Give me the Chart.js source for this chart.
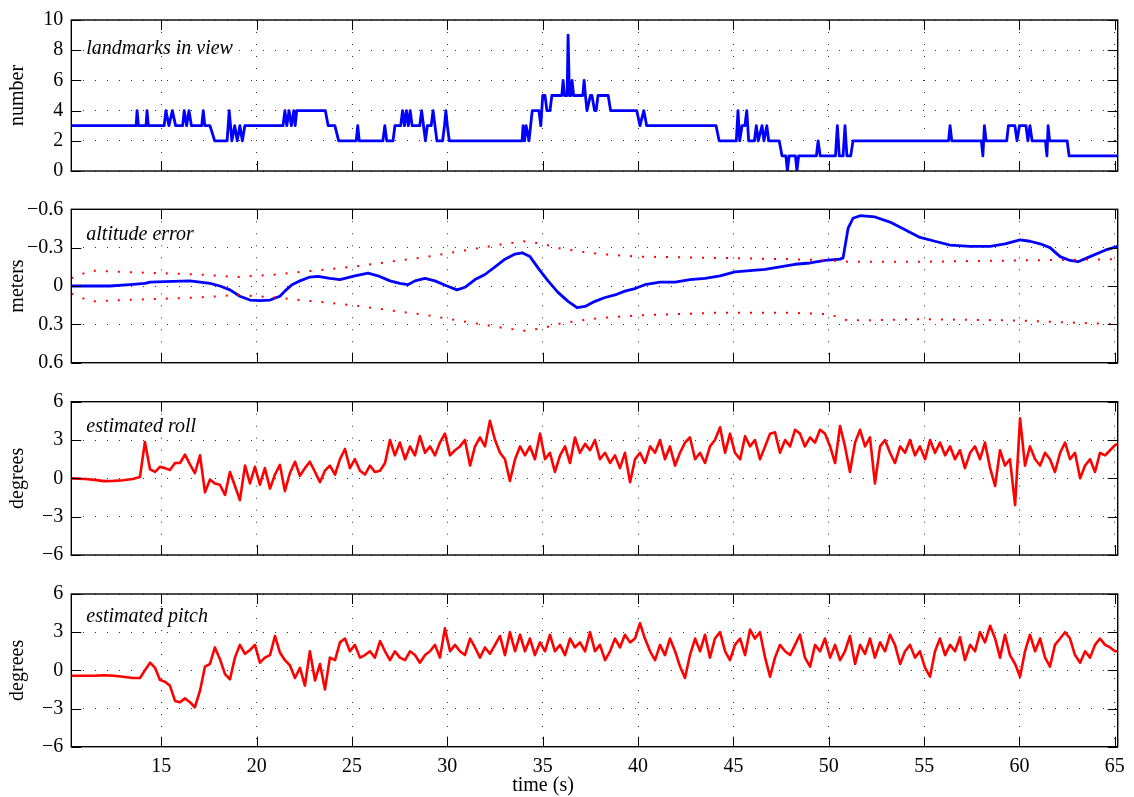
<!DOCTYPE html>
<html><head><meta charset="utf-8">
<script src="https://cdn.jsdelivr.net/npm/chart.js@4.4.0/dist/chart.umd.min.js"></script>
<style>
html,body{margin:0;padding:0;background:#fff;}
#wrap{position:relative;width:1134px;height:797px;overflow:hidden;background:#fff;}
canvas{position:absolute;left:0;top:0;}
</style></head><body><div id="wrap">
<canvas id="c1" width="1134" height="797"></canvas>
<canvas id="c2" width="1134" height="797"></canvas>
<canvas id="c3" width="1134" height="797"></canvas>
<canvas id="c4" width="1134" height="797"></canvas>
</div>
<script>
// ---------- tick labels ----------
const timeTicks = [15, 20, 25, 30, 35, 40, 45, 50, 55, 60, 65];
const countTicks = [0, 2, 4, 6, 8, 10];
const meterTicks = [-0.6, -0.3, 0, 0.3, 0.6];
const degreeTicks = [-6, -3, 0, 3, 6];
const timeRange = [10.28, 65.15];

// ---------- landmarks in view ----------
const lmTime = [10.28,13.68,13.73,13.80,14.20,14.25,14.32,15.15,15.24,15.40,15.58,15.75,16.12,16.20,16.33,16.45,16.58,
 17.12,17.20,17.28,17.55,17.80,18.45,18.56,18.70,18.85,18.98,19.12,19.25,19.38,
 21.38,21.48,21.58,21.70,21.82,21.95,22.02,22.10,23.60,23.75,24.10,24.30,
 25.22,25.30,25.38,26.62,26.72,26.82,27.15,27.25,27.55,27.65,27.75,27.85,27.95,28.05,28.15,28.55,28.65,28.75,28.85,28.95,
 29.15,29.25,29.35,29.45,29.75,29.85,29.92,30.00,30.10,
 33.92,33.97,34.05,34.13,34.28,34.45,34.80,34.90,35.00,35.12,35.22,35.38,35.48,36.00,36.07,36.14,36.28,36.33,36.40,
 36.48,36.54,36.62,37.10,37.17,37.24,37.32,37.50,37.58,37.72,37.80,37.90,38.43,38.56,39.93,40.10,40.30,40.45,
 44.09,44.25,45.15,45.24,45.33,45.45,45.60,45.70,45.80,46.10,46.20,46.30,46.50,46.60,46.75,46.85,47.40,47.55,47.75,
 47.83,47.92,48.25,48.33,48.42,49.35,49.44,49.55,50.35,50.45,50.55,50.75,50.85,50.95,51.15,51.27,
 56.28,56.36,56.45,58.00,58.08,58.16,58.25,59.33,59.42,59.76,59.87,60.00,60.34,60.44,60.55,60.66,
 61.36,61.44,61.50,61.58,62.50,62.60,65.15];
const lmCount = [3,3,4,3,3,4,3,3,4,3,4,3,3,4,3,4,3,
 3,4,3,3,2,2,4,2,3,2,3,2,3,
 3,4,3,4,3,4,3,4,4,3,3,2,
 2,3,2,2,3,2,2,3,3,4,3,4,3,4,3,3,4,3,2,3,
 3,4,3,2,2,3,4,3,2,
 2,3,2,3,2,4,4,3,5,5,4,4,5,5,6,5,5,9,5,
 5,6,5,5,6,5,4,5,5,4,4,5,5,4,4,3,4,3,
 3,2,2,4,2,3,3,4,2,2,3,2,3,2,3,2,2,1,1,
 0,1,1,0,1,1,2,1,1,3,1,1,3,1,1,2,
 2,3,2,2,1,3,2,2,3,3,2,3,3,2,3,2,
 2,1,3,2,2,1,1];

// ---------- altitude error (m) ----------
const altTime = [10.28,12.31,13.36,14.14,14.41,15.19,16.50,17.03,17.55,18.07,18.60,19.12,19.65,20.17,20.70,21.22,21.48,21.85,
 22.27,22.79,23.22,23.84,24.37,25.15,25.84,26.36,26.99,27.51,27.93,28.30,28.83,29.35,29.98,30.51,30.92,31.45,31.97,
 32.50,33.02,33.55,33.92,34.33,34.86,35.28,35.80,36.33,36.80,37.22,37.74,38.27,38.79,39.31,39.84,40.36,41.15,41.94,
 42.72,43.51,44.30,45.08,45.87,46.66,47.44,48.23,49.02,49.80,50.59,50.75,51.01,51.27,51.64,52.42,53.21,54.00,54.78,
 55.57,56.36,57.41,58.46,59.24,60.03,60.55,61.08,61.60,62.13,62.65,63.07,63.70,64.49,65.15];
const altErr = [0.00,0.00,-0.01,-0.02,-0.03,-0.035,-0.04,-0.03,-0.02,0.00,0.03,0.08,0.11,0.115,0.11,0.08,0.04,-0.01,
 -0.04,-0.07,-0.075,-0.06,-0.05,-0.08,-0.10,-0.08,-0.04,-0.02,-0.01,-0.04,-0.06,-0.04,0.00,0.03,0.01,-0.05,-0.09,
 -0.15,-0.21,-0.25,-0.26,-0.23,-0.12,-0.04,0.05,0.12,0.17,0.16,0.12,0.09,0.07,0.04,0.02,-0.01,-0.03,-0.03,
 -0.05,-0.06,-0.08,-0.11,-0.12,-0.13,-0.15,-0.17,-0.18,-0.20,-0.21,-0.22,-0.45,-0.53,-0.55,-0.54,-0.50,-0.44,-0.38,
 -0.35,-0.32,-0.31,-0.31,-0.33,-0.36,-0.35,-0.33,-0.30,-0.23,-0.20,-0.19,-0.23,-0.28,-0.31];
const sigTime = [10.28,11.3,13,15,17,19,21,23,25,27,29,31,33,34,35,36,38,40,44,48,50,51,55,60,65.15];
const sigUpper = [-0.06,-0.12,-0.11,-0.10,-0.09,-0.07,-0.09,-0.12,-0.15,-0.19,-0.23,-0.28,-0.33,-0.35,-0.33,-0.29,-0.25,-0.23,-0.22,-0.21,-0.20,-0.19,-0.19,-0.20,-0.21];
const sigLower = [0.06,0.12,0.11,0.10,0.09,0.07,0.09,0.12,0.15,0.19,0.23,0.28,0.33,0.35,0.33,0.29,0.25,0.23,0.21,0.21,0.22,0.27,0.26,0.27,0.30];

// ---------- attitude (deg) ----------
const attTime = [10.28,11.0,11.5,12.0,12.5,13.0,13.5,
 13.88,14.14,14.41,14.67,14.93,15.19,15.45,15.72,15.98,16.24,
 16.50,16.76,17.03,17.29,17.55,17.81,18.07,18.34,18.60,18.86,
 19.12,19.39,19.65,19.91,20.17,20.43,20.70,20.96,21.22,21.48,
 21.74,22.01,22.27,22.53,22.79,23.06,23.32,23.58,23.84,24.11,
 24.37,24.63,24.89,25.15,25.42,25.68,25.94,26.20,26.47,26.73,
 26.99,27.25,27.51,27.78,28.04,28.30,28.56,28.83,29.09,29.35,
 29.61,29.87,30.14,30.40,30.66,30.92,31.19,31.45,31.71,31.97,
 32.23,32.50,32.76,33.02,33.28,33.55,33.81,34.07,34.33,34.59,
 34.86,35.12,35.38,35.64,35.91,36.17,36.43,36.69,36.95,37.22,
 37.48,37.74,38.00,38.27,38.53,38.79,39.05,39.31,39.58,39.84,
 40.10,40.36,40.63,40.89,41.15,41.41,41.67,41.94,42.20,42.46,
 42.72,42.99,43.25,43.51,43.77,44.03,44.30,44.56,44.82,45.08,
 45.35,45.61,45.87,46.13,46.39,46.66,46.92,47.18,47.44,47.71,
 47.97,48.23,48.49,48.75,49.02,49.28,49.54,49.80,50.07,50.33,
 50.59,50.85,51.11,51.38,51.64,51.90,52.16,52.42,52.69,52.95,
 53.21,53.47,53.74,54.00,54.26,54.52,54.78,55.05,55.31,55.57,
 55.83,56.10,56.36,56.62,56.88,57.14,57.41,57.67,57.93,58.19,
 58.46,58.72,58.98,59.24,59.50,59.77,60.03,60.29,60.55,60.82,
 61.08,61.34,61.60,61.86,62.13,62.39,62.65,62.91,63.18,63.44,
 63.70,63.96,64.22,64.49,64.75,65.01,65.15];
const rollDeg = [0.0,-0.05,-0.12,-0.22,-0.2,-0.15,-0.05,
 0.1,2.85,0.7,0.5,0.9,0.8,0.65,1.2,1.2,1.85,
 1.1,0.4,1.8,-1.1,-0.1,-0.4,-0.5,-1.3,0.5,-0.6,
 -1.7,1.0,-0.4,0.9,-0.5,0.8,-0.8,0.3,1.05,-1.0,
 0.4,1.3,0.2,0.8,1.3,0.5,-0.3,0.6,1.0,0.3,
 1.5,2.3,0.8,1.5,0.6,0.3,1.0,0.5,0.6,1.2,
 3.0,1.8,2.8,1.5,2.5,1.8,3.3,2.0,2.5,1.8,
 2.8,3.5,1.8,2.2,2.5,3.0,1.0,2.5,3.2,2.5,
 4.5,3.0,2.0,1.5,-0.2,1.5,2.5,1.8,2.5,1.5,
 3.5,1.5,2.0,0.5,1.8,2.5,1.2,3.2,2.0,2.7,
 2.2,3.0,1.5,2.0,1.2,1.8,0.8,2.0,-0.3,1.5,
 2.0,1.2,2.5,2.0,3.0,1.5,2.5,1.0,2.0,2.8,
 3.2,1.5,2.0,1.2,2.5,3.0,4.0,2.0,3.5,2.0,
 1.5,3.3,2.5,3.0,1.5,2.5,3.5,3.6,2.0,3.0,
 2.5,3.8,3.5,2.5,3.2,2.8,3.8,3.5,2.5,1.2,
 4.1,2.5,0.5,2.8,3.8,2.5,3.2,-0.4,2.5,3.0,
 2.0,1.2,2.5,2.0,3.0,1.8,2.5,1.5,3.0,2.0,
 2.8,1.8,2.5,1.5,2.2,0.8,2.0,2.5,1.5,2.8,
 0.8,-0.6,2.2,1.0,1.5,-2.1,4.7,1.0,2.5,1.5,
 1.0,2.0,1.5,0.5,2.0,2.8,1.5,2.0,0.0,1.0,
 1.5,0.5,2.0,1.8,2.2,2.6,2.7];
const pitchDeg = [-0.42,-0.42,-0.42,-0.38,-0.42,-0.5,-0.6,
 -0.6,0.0,0.6,0.2,-0.75,-0.9,-1.2,-2.4,-2.5,-2.2,
 -2.5,-2.9,-1.6,0.3,0.5,1.8,0.9,-0.3,-0.7,1.0,
 2.0,1.3,1.6,2.0,0.6,1.0,1.2,2.7,1.4,0.8,
 0.4,-0.6,0.2,-1.2,1.5,-0.8,0.5,-1.5,1.0,0.8,
 2.2,2.5,1.5,2.0,1.0,1.2,1.5,1.0,2.3,1.5,
 0.8,1.5,1.0,0.8,1.5,1.2,0.6,1.2,1.5,2.0,
 1.0,3.3,1.5,2.0,1.5,1.2,2.5,1.8,1.0,1.8,
 1.3,2.0,2.7,1.2,3.0,1.5,2.8,1.5,2.5,1.2,
 2.2,1.5,2.8,1.5,2.0,1.2,2.5,1.8,2.2,1.5,
 3.0,1.5,2.0,0.8,1.5,2.5,1.8,2.8,2.2,2.5,
 3.7,2.5,1.5,0.8,2.0,1.2,2.5,1.5,0.3,-0.6,
 1.2,2.5,1.5,2.8,1.0,2.5,3.0,1.5,0.8,2.0,
 2.5,1.2,3.2,2.5,3.0,1.0,-0.5,1.0,2.0,1.5,
 1.2,2.0,2.8,1.0,0.3,2.0,1.5,2.5,1.0,2.0,
 0.8,1.5,2.7,0.5,2.0,1.3,2.5,1.0,2.2,1.5,
 2.8,2.0,0.5,1.5,2.0,1.0,1.5,0.2,-0.5,1.5,
 2.5,1.2,2.0,1.5,2.6,0.8,2.0,1.5,3.0,2.2,
 3.5,2.5,1.0,2.8,1.2,0.5,-0.5,1.5,2.8,1.5,
 2.5,1.0,0.3,2.0,2.5,3.0,2.5,1.2,0.6,1.5,
 1.0,2.0,2.5,2.0,1.8,1.5,1.5];

// ---------- drawing ----------
Chart.defaults.font.family = '"Liberation Serif", "Times New Roman", serif';
Chart.defaults.font.size = 20;
Chart.defaults.color = '#000';

const W = 797;
const pts = (xs, ys) => xs.map((x, i) => ({x: x, y: ys[i]}));
const fmt = v => (v < 0 ? '\u2212' + String(Math.abs(v)) : String(v));

const framePlugin = {
  id: 'frame',
  afterDatasetsDraw(chart, args, opts) {
    const {ctx, chartArea: a, scales} = chart;
    ctx.save();
    ctx.strokeStyle = '#000';
    ctx.lineWidth = 1;
    const L = 10;
    ctx.beginPath();
    scales.y.ticks.forEach(t => {
      const p = Math.round(scales.y.getPixelForValue(t.value)) + 0.5;
      ctx.moveTo(a.left, p); ctx.lineTo(a.left + L, p);
      ctx.moveTo(a.right, p); ctx.lineTo(a.right - L, p);
    });
    scales.x.ticks.forEach(t => {
      const p = Math.round(scales.x.getPixelForValue(t.value)) + 0.5;
      ctx.moveTo(p, a.top); ctx.lineTo(p, a.top + L);
      ctx.moveTo(p, a.bottom); ctx.lineTo(p, a.bottom - L);
    });
    ctx.stroke();
    ctx.lineWidth = 1.4;
    ctx.strokeRect(a.left, a.top, a.right - a.left, a.bottom - a.top);
    ctx.fillStyle = '#000';
    ctx.textBaseline = 'alphabetic';
    ctx.textAlign = 'left';
    ctx.font = 'italic 20px "Liberation Serif"';
    ctx.fillText(opts.text, a.left + 15, a.top + opts.dy);
    if (opts.xlabel) {
      ctx.font = '20px "Liberation Serif"';
      ctx.textAlign = 'center';
      ctx.textBaseline = 'middle';
      ctx.fillText(opts.xlabel, opts.xlabelX, opts.xlabelY);
    }
    ctx.restore();
  }
};

function panel(id, cfg) {
  const gridStyle = {display: true, color: 'rgba(0,0,0,0.8)', lineWidth: 1, drawTicks: false};
  new Chart(document.getElementById(id), {
    type: 'line',
    data: {datasets: cfg.datasets},
    options: {
      responsive: false,
      devicePixelRatio: 1,
      animation: false,
      events: [],
      layout: {padding: {left: 0, right: 1134 - 1117.7, top: cfg.top, bottom: 0}},
      plugins: {legend: {display: false}, tooltip: {enabled: false}, frame: cfg.frame},
      elements: {point: {radius: 0}, line: {tension: 0, borderJoinStyle: 'round', borderCapStyle: 'round'}},
      scales: {
        x: {
          type: 'linear', min: timeRange[0], max: timeRange[1],
          grid: gridStyle,
          border: {display: false, dash: [1, 11]},
          afterBuildTicks: s => { s.ticks = timeTicks.map(v => ({value: v})); },
          ticks: {display: cfg.showX, padding: 8, maxRotation: 0, autoSkip: false, callback: v => String(v)},
          afterFit: s => { s.height = W - cfg.bottom; }
        },
        y: {
          type: 'linear', min: cfg.yTicks[0], max: cfg.yTicks[cfg.yTicks.length - 1], reverse: !!cfg.reverse,
          grid: gridStyle,
          border: {display: false, dash: [1, 11]},
          afterBuildTicks: s => { s.ticks = cfg.yTicks.map(v => ({value: v})); },
          ticks: {padding: 8, autoSkip: false, callback: v => fmt(v)},
          title: {display: true, text: cfg.ytitle, padding: {top: 6, bottom: 0}},
          afterFit: s => { s.width = 71.3; }
        }
      }
    },
    plugins: [framePlugin]
  });
}

panel('c1', {
  top: 17.3, bottom: 171, yTicks: countTicks, ytitle: 'number', showX: false,
  frame: {text: 'landmarks in view', dy: 34},
  datasets: [{data: pts(lmTime, lmCount), borderColor: '#0000ff', borderWidth: 2.8, fill: false}]
});
panel('c2', {
  top: 209.3, bottom: 362.7, yTicks: meterTicks, reverse: true, ytitle: 'meters', showX: false,
  frame: {text: 'altitude error', dy: 31},
  datasets: [
    {data: pts(sigTime, sigUpper), borderColor: '#ff0000', borderWidth: 2, borderDash: [2, 10], borderCapStyle: 'butt', fill: false},
    {data: pts(sigTime, sigLower), borderColor: '#ff0000', borderWidth: 2, borderDash: [2, 10], borderCapStyle: 'butt', fill: false},
    {data: pts(altTime, altErr), borderColor: '#0000ff', borderWidth: 2.8, fill: false}
  ]
});
panel('c3', {
  top: 401.7, bottom: 555, yTicks: degreeTicks, ytitle: 'degrees', showX: false,
  frame: {text: 'estimated roll', dy: 30},
  datasets: [{data: pts(attTime, rollDeg), borderColor: '#ff0000', borderWidth: 2.6, fill: false}]
});
panel('c4', {
  top: 594, bottom: 746.7, yTicks: degreeTicks, ytitle: 'degrees', showX: true,
  frame: {text: 'estimated pitch', dy: 28, xlabel: 'time (s)', xlabelX: 543, xlabelY: 786},
  datasets: [{data: pts(attTime, pitchDeg), borderColor: '#ff0000', borderWidth: 2.6, fill: false}]
});
</script>
</body></html>
